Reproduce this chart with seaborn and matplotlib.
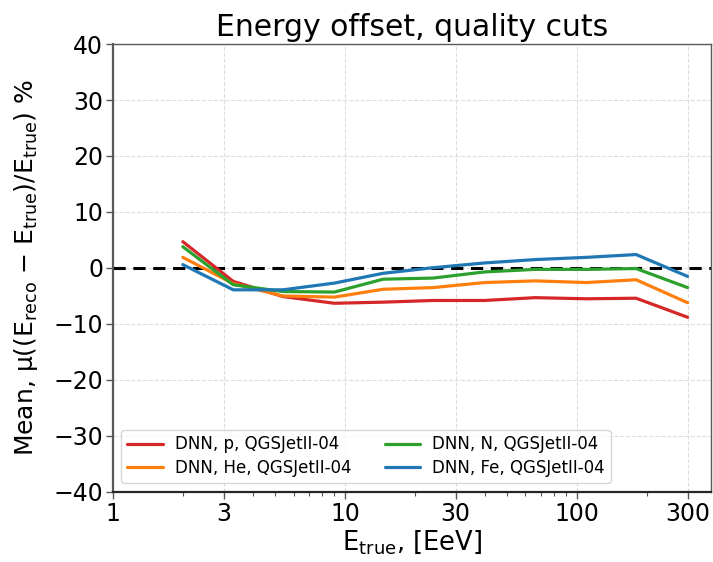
import numpy as np
import pandas as pd
import matplotlib
matplotlib.use("Agg")
import matplotlib.pyplot as plt
import seaborn as sns
from matplotlib.ticker import FixedLocator, FixedFormatter, LogLocator, NullFormatter

# ---- data ----
energy = [2.0, 3.3, 5.4, 9.0, 14.6, 24.0, 40.0, 66.0, 110.0, 180.0, 300.0]
offset_p = [4.7, -2.4, -5.1, -6.3, -6.1, -5.8, -5.8, -5.3, -5.5, -5.4, -8.8]
offset_he = [1.9, -2.8, -5.0, -5.2, -3.8, -3.5, -2.6, -2.3, -2.6, -2.1, -6.2]
offset_n = [3.8, -3.0, -4.2, -4.3, -2.0, -1.8, -0.7, -0.25, -0.25, -0.1, -3.5]
offset_fe = [0.6, -3.9, -3.9, -2.7, -0.95, 0.05, 0.9, 1.5, 1.9, 2.4, -1.5]
labels = ["DNN, p, QGSJetII-04", "DNN, He, QGSJetII-04",
          "DNN, N, QGSJetII-04", "DNN, Fe, QGSJetII-04"]
colors = ["#d62728", "#ff7f0e", "#2ca02c", "#1f77b4"]
xticks = [1, 3, 10, 30, 100, 300]
xticklabels = ["1", "3", "10", "30", "100", "300"]
yticks = [-40, -30, -20, -10, 0, 10, 20, 30, 40]

frames = []
for lab, vals in zip(labels, [offset_p, offset_he, offset_n, offset_fe]):
    frames.append(pd.DataFrame({"E": energy, "offset": vals, "model": lab}))
df = pd.concat(frames, ignore_index=True)

sns.set_theme(style="white")
plt.rcParams['font.family'] = ['DejaVu Sans']
plt.rcParams['text.color'] = 'black'
plt.rcParams['axes.labelcolor'] = 'black'
plt.rcParams['xtick.color'] = 'black'
plt.rcParams['ytick.color'] = 'black'

fig = plt.figure(figsize=(7.13, 5.62), dpi=100)
ax = fig.add_axes([0.1585, 0.1246, 0.8385, 0.7971])

sns.lineplot(data=df, x="E", y="offset", hue="model", hue_order=labels,
             palette=colors, linewidth=2.3, ax=ax, legend=True, sort=False)
ax.axhline(0, color="black", linestyle=(0, (4, 2.5)), linewidth=2.2, zorder=1)

ax.set_xscale("log")
ax.set_xlim(1, 378)
ax.set_ylim(-40, 40)
ax.xaxis.set_major_locator(FixedLocator(xticks))
ax.xaxis.set_major_formatter(FixedFormatter(xticklabels))
ax.xaxis.set_minor_locator(LogLocator(base=10, subs=np.arange(2, 10)))
ax.xaxis.set_minor_formatter(NullFormatter())
ax.set_yticks(yticks)

ax.grid(True, which="major", linestyle="--", color="#dddddd", linewidth=0.8)
ax.tick_params(axis="both", which="major", labelsize=17, length=5, width=1,
               color="0.35", labelcolor="black", bottom=True, left=True, pad=2)
ax.tick_params(axis="x", which="minor", length=3, width=0.8, color="0.35", bottom=True)
for s in ax.spines.values():
    s.set_color("0.35")
    s.set_linewidth(1.0)
ax.spines["left"].set_linewidth(1.6)
ax.spines["bottom"].set_linewidth(1.6)
ax.spines["bottom"].set_color("0.15")

ax.set_title("Energy offset, quality cuts", fontsize=21.5, pad=6, color="black")
ax.set_xlabel(r"E$_{\mathrm{true}}$, [EeV]", fontsize=18.5, labelpad=2)
ax.set_ylabel(r"Mean, $\mathrm{\mu}$((E$_{\mathrm{reco}}$ $-$ E$_{\mathrm{true}}$)/E$_{\mathrm{true}}$) %",
              fontsize=18, labelpad=10)

leg = ax.legend(loc="lower left", ncol=2, fontsize=12, frameon=True,
                bbox_to_anchor=(0.0134, 0.02), borderaxespad=0,
                columnspacing=2.0, handlelength=2.15, handletextpad=0.72,
                borderpad=0.35, labelspacing=0.35)
leg.get_frame().set_edgecolor("#cccccc")
for t in leg.get_texts():
    t.set_color("black")
for line in leg.get_lines():
    line.set_linewidth(2.3)

fig.savefig("out.png", dpi=100)
